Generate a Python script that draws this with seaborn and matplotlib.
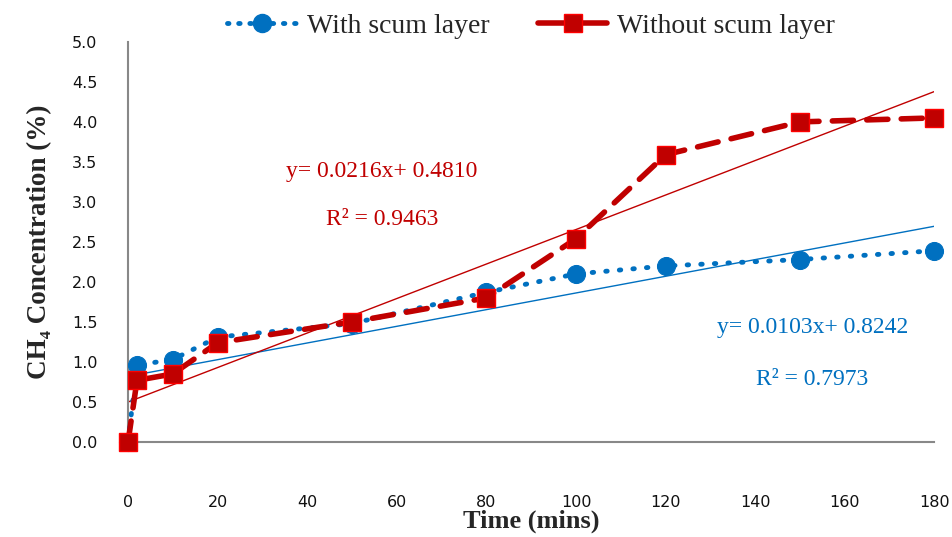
import numpy as np
import pandas as pd
import matplotlib
matplotlib.use("Agg")
import matplotlib.pyplot as plt
from matplotlib.lines import Line2D
import seaborn as sns

# data
time_mins = [0, 2, 10, 20, 50, 80, 100, 120, 150, 180]
with_scum = [0.0, 0.96, 1.03, 1.31, 1.48, 1.87, 2.10, 2.20, 2.28, 2.39]
without_scum = [0.0, 0.77, 0.85, 1.24, 1.50, 1.80, 2.54, 3.59, 4.00, 4.05]
x_ticks = [0, 20, 40, 60, 80, 100, 120, 140, 160, 180]
y_ticks = [0.0, 0.5, 1.0, 1.5, 2.0, 2.5, 3.0, 3.5, 4.0, 4.5, 5.0]

df = pd.DataFrame({"time": time_mins, "with": with_scum, "without": without_scum})

BLUE = "#0070C0"
RED = "#C00000"
SERIF = ["Liberation Serif", "DejaVu Serif"]

sns.set_style("white")
plt.rcParams["font.family"] = ["DejaVu Sans"]

fig = plt.figure(figsize=(9.52, 5.37), dpi=100)
ax = fig.add_axes([0.1345, 0.177, 0.847, 0.745])

# linear trendlines
fit_x = np.array([0, 180])
for col, color in [("with", BLUE), ("without", RED)]:
    m, b = np.polyfit(df["time"], df[col], 1)
    ax.plot(fit_x, m * fit_x + b, color=color, lw=1, zorder=2)

sns.lineplot(data=df, x="time", y="with", ax=ax, color=BLUE, lw=3.5,
             linestyle=(0, (0.3, 2.5)), dash_capstyle="round",
             marker="o", markersize=13, markeredgecolor=BLUE,
             markerfacecolor=BLUE, clip_on=False, zorder=3)
sns.lineplot(data=df, x="time", y="without", ax=ax, color=RED, lw=4,
             linestyle=(0, (3.8, 2.4)), dash_capstyle="round",
             marker="s", markersize=13.5, markeredgecolor="#FF0000",
             markeredgewidth=1, markerfacecolor=RED, clip_on=False, zorder=4)

ax.set_xlim(0, 180)
ax.set_ylim(0, 5.0)
ax.set_xticks(x_ticks)
ax.set_yticks(y_ticks)
ax.set_yticklabels([f"{v:.1f}" for v in y_ticks])
ax.tick_params(axis="both", direction="out", length=10, width=1.5,
               color="#888888", labelsize=11.5, labelcolor="#111111")
ax.tick_params(axis="x", pad=28)
ax.tick_params(axis="y", pad=12)

for s in ["top", "right"]:
    ax.spines[s].set_visible(False)
for s in ["left", "bottom"]:
    ax.spines[s].set_color("#888888")
    ax.spines[s].set_linewidth(1.5)

ax.set_xlabel("Time (mins)", family=SERIF, fontsize=19, fontweight="bold", labelpad=0)
ax.set_ylabel("CH\u2084 Concentration (%)", family=SERIF, fontsize=19.5,
              fontweight="bold", labelpad=14)

# equation annotations
eq_font = dict(family=SERIF, fontsize=17, ha="center", va="center")
ax.text(56.7, 3.375, "y= 0.0216x+ 0.4810", color=RED, **eq_font)
ax.text(56.7, 2.775, "R\u00b2 = 0.9463", color=RED, **eq_font)
ax.text(152.8, 1.425, "y= 0.0103x+ 0.8242", color=BLUE, **eq_font)
ax.text(152.8, 0.775, "R\u00b2 = 0.7973", color=BLUE, **eq_font)

# legend handles: dotted blue with circle, solid red with square
handles = [
    Line2D([], [], color=BLUE, lw=3.5, linestyle=(0, (0.3, 2.0)),
           dash_capstyle="round", marker="o", markersize=13),
    Line2D([], [], color=RED, lw=4, solid_capstyle="round", marker="s",
           markersize=13.5, markeredgecolor="#FF0000", markerfacecolor=RED),
]
ax.legend(handles, ["With scum layer", "Without scum layer"],
          loc="center", bbox_to_anchor=(0.5, 1.04), ncol=2, frameon=False,
          prop={"family": SERIF, "size": 20}, handlelength=2.5,
          handletextpad=0.36, columnspacing=1.75)

fig.savefig("out.png", dpi=100)
